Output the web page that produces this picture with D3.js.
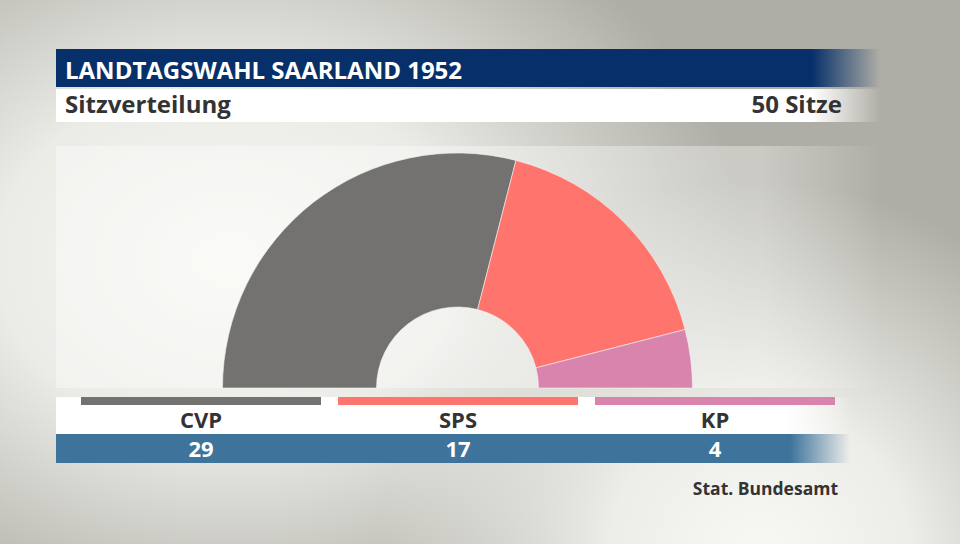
<!DOCTYPE html>
<html><head><meta charset="utf-8">
<script src="https://cdn.jsdelivr.net/npm/d3@7"></script>
<style>
html,body{margin:0;padding:0;background:#b0afa8;}
svg{display:block;font-family:"Open Sans",sans-serif;}
</style></head>
<body>
<svg id="chart" width="960" height="544"></svg>
<script>
const title = "LANDTAGSWAHL SAARLAND 1952";
const subtitle = "Sitzverteilung";
const totalLabel = "50 Sitze";
const source = "Stat. Bundesamt";
const parties = ["CVP", "SPS", "KP"];
const seats = [29, 17, 4];
const colors = ["#747270", "#ff756d", "#d884ad"];

const svg = d3.select("#chart");
const defs = svg.append("defs");

// background gradients
const bg1 = defs.append("radialGradient").attr("id","bg1").attr("gradientUnits","userSpaceOnUse")
  .attr("cx",230).attr("cy",260).attr("r",520)
  .attr("gradientTransform","translate(230,260) scale(1,0.75) rotate(-20) translate(-230,-260)");
bg1.append("stop").attr("offset",0).attr("stop-color","#f8f8f4").attr("stop-opacity",1);
bg1.append("stop").attr("offset",0.45).attr("stop-color","#f2f2ee").attr("stop-opacity",0.9);
bg1.append("stop").attr("offset",1).attr("stop-color","#f2f2ee").attr("stop-opacity",0);
const bg2 = defs.append("radialGradient").attr("id","bg2").attr("gradientUnits","userSpaceOnUse")
  .attr("cx",760).attr("cy",560).attr("r",380);
bg2.append("stop").attr("offset",0).attr("stop-color","#f8f8f4").attr("stop-opacity",1);
bg2.append("stop").attr("offset",0.4).attr("stop-color","#f4f4f0").attr("stop-opacity",0.9);
bg2.append("stop").attr("offset",1).attr("stop-color","#f2f2ee").attr("stop-opacity",0);

svg.append("rect").attr("width",960).attr("height",544).attr("fill","#afaea6");
svg.append("rect").attr("width",960).attr("height",544).attr("fill","url(#bg1)");
svg.append("rect").attr("width",960).attr("height",544).attr("fill","url(#bg2)");

function fadeGrad(id, color, x0, x1, op){
  const g = defs.append("linearGradient").attr("id",id).attr("gradientUnits","userSpaceOnUse")
    .attr("x1",x0).attr("x2",x1).attr("y1",0).attr("y2",0);
  g.append("stop").attr("offset",0).attr("stop-color",color).attr("stop-opacity",op);
  g.append("stop").attr("offset",1).attr("stop-color",color).attr("stop-opacity",0);
}
fadeGrad("gTitle","#07306a",812,880,1);
fadeGrad("gSub","#ffffff",812,880,1);
fadeGrad("gPanel","#ffffff",760,880,0.35);
fadeGrad("gLeg","#ffffff",785,852,1);
fadeGrad("gVal","#3e739c",790,850,1);

// header
svg.append("rect").attr("x",56).attr("y",49).attr("width",824).attr("height",38).attr("fill","url(#gTitle)");
svg.append("rect").attr("x",56).attr("y",89).attr("width",824).attr("height",33).attr("fill","url(#gSub)");
svg.append("text").attr("x",65).attr("y",79).attr("fill","#fff").attr("font-size",24).attr("font-weight",700)
  .text(title);
svg.append("text").attr("x",65).attr("y",113).attr("fill","#333").attr("font-size",24).attr("font-weight",700)
  .text(subtitle);
svg.append("text").attr("x",842).attr("y",113).attr("text-anchor","end").attr("fill","#333").attr("font-size",24).attr("font-weight",700)
  .text(totalLabel);

// chart panel
svg.append("rect").attr("x",56).attr("y",146).attr("width",824).attr("height",242).attr("fill","url(#gPanel)");

// donut
const cx = 457.5, cy = 388, R = 235, r = 81;
const pie = d3.pie().sort(null).startAngle(-Math.PI/2).endAngle(Math.PI/2);
const arc = d3.arc().innerRadius(r).outerRadius(R);
const arcs = pie(seats);
svg.append("g").attr("transform",`translate(${cx},${cy})`)
  .selectAll("path").data(arcs).join("path")
  .attr("d",arc).attr("fill",(d,i)=>colors[i])
  .attr("stroke","#f4f4f0").attr("stroke-width",0.6);

// legend strip
svg.append("rect").attr("x",56).attr("y",397).attr("width",824).attr("height",37).attr("fill","url(#gLeg)");
svg.append("rect").attr("x",56).attr("y",434).attr("width",800).attr("height",29).attr("fill","url(#gVal)");

const band = d3.scaleBand().domain(parties).range([81-8.5, 835+8.5]).paddingInner(0.0);
const lg = svg.append("g");
const slotW = band.bandwidth();
lg.selectAll("rect.key").data(parties).join("rect").attr("class","key")
  .attr("x",d=>band(d)+8.5).attr("y",397).attr("width",slotW-17).attr("height",8)
  .attr("fill",(d,i)=>colors[i]);
lg.selectAll("text.name").data(parties).join("text").attr("class","name")
  .attr("x",d=>band(d)+slotW/2).attr("y",428).attr("text-anchor","middle")
  .attr("fill","#333").attr("font-size",22).attr("font-weight",700).text(d=>d);
lg.selectAll("text.val").data(seats).join("text").attr("class","val")
  .attr("x",(d,i)=>band(parties[i])+slotW/2).attr("y",457).attr("text-anchor","middle")
  .attr("fill","#fff").attr("font-size",22).attr("font-weight",700).text(d=>d);

svg.append("text").attr("x",838).attr("y",495).attr("text-anchor","end").attr("fill","#333")
  .attr("font-size",17.5).attr("font-weight",700).text(source);
</script>
</body></html>
